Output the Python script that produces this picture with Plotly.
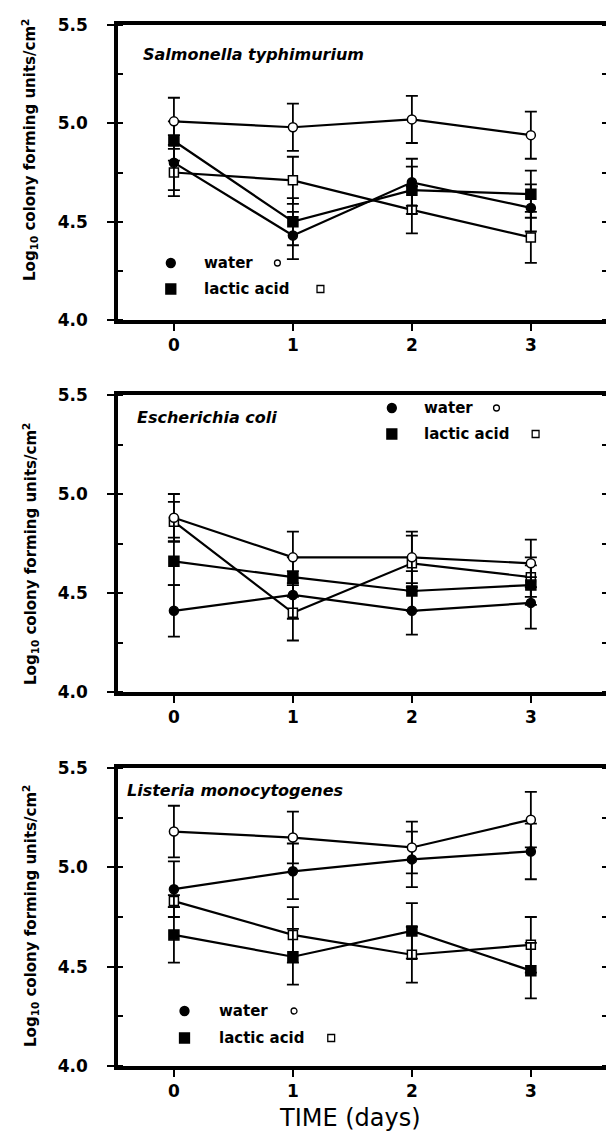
import plotly.graph_objects as go

days = [0, 1, 2, 3]
tick_vals_y = [4.0, 4.5, 5.0, 5.5]
tick_text_y = ["4.0", "4.5", "5.0", "5.5"]

panel_titles = ["Salmonella typhimurium", "Escherichia coli", "Listeria monocytogenes"]

# Salmonella typhimurium
sal_water_filled = [4.80, 4.43, 4.70, 4.57]
sal_water_filled_err = [0.14, 0.12, 0.12, 0.12]
sal_water_open = [5.01, 4.98, 5.02, 4.94]
sal_water_open_err = [0.12, 0.12, 0.12, 0.12]
sal_lactic_filled = [4.91, 4.50, 4.66, 4.64]
sal_lactic_filled_err = [0.10, 0.12, 0.12, 0.12]
sal_lactic_open = [4.75, 4.71, 4.56, 4.42]
sal_lactic_open_err = [0.12, 0.12, 0.12, 0.13]

# Escherichia coli
eco_water_filled = [4.41, 4.49, 4.41, 4.45]
eco_water_filled_err = [0.13, 0.12, 0.12, 0.13]
eco_water_open = [4.88, 4.68, 4.68, 4.65]
eco_water_open_err = [0.12, 0.13, 0.13, 0.12]
eco_lactic_filled = [4.66, 4.58, 4.51, 4.54]
eco_lactic_filled_err = [0.12, 0.10, 0.10, 0.10]
eco_lactic_open = [4.86, 4.40, 4.65, 4.58]
eco_lactic_open_err = [0.10, 0.14, 0.14, 0.10]

# Listeria monocytogenes
lis_water_filled = [4.89, 4.98, 5.04, 5.08]
lis_water_filled_err = [0.14, 0.14, 0.14, 0.14]
lis_water_open = [5.18, 5.15, 5.10, 5.24]
lis_water_open_err = [0.13, 0.13, 0.13, 0.14]
lis_lactic_filled = [4.66, 4.55, 4.68, 4.48]
lis_lactic_filled_err = [0.14, 0.14, 0.14, 0.14]
lis_lactic_open = [4.83, 4.66, 4.56, 4.61]
lis_lactic_open_err = [0.03, 0.14, 0.14, 0.14]

panels = [
    (sal_water_filled, sal_water_filled_err, sal_water_open, sal_water_open_err,
     sal_lactic_filled, sal_lactic_filled_err, sal_lactic_open, sal_lactic_open_err),
    (eco_water_filled, eco_water_filled_err, eco_water_open, eco_water_open_err,
     eco_lactic_filled, eco_lactic_filled_err, eco_lactic_open, eco_lactic_open_err),
    (lis_water_filled, lis_water_filled_err, lis_water_open, lis_water_open_err,
     lis_lactic_filled, lis_lactic_filled_err, lis_lactic_open, lis_lactic_open_err),
]

W, H = 614, 1140
ML, MR, MT, MB = 110, 4, 17, 82
PW = W - ML - MR
PH = H - MT - MB


def xp(px):
    return (px - ML) / PW


def yp(py):
    return (H - MB - py) / PH


panel_px = [(17, 312), (387, 684), (760, 1058)]

FONT = "DejaVu Sans"
fig = go.Figure()

for i, data in enumerate(panels):
    (wf, wfe, wo, woe, lf, lfe, lo, loe) = data
    sfx = "" if i == 0 else str(i + 1)
    xa, ya = "x" + sfx, "y" + sfx
    specs = [
        (lo, loe, "square", "white", 9),
        (lf, lfe, "square", "black", 10),
        (wf, wfe, "circle", "black", 9),
        (wo, woe, "circle", "white", 9),
    ]
    for vals, errs, sym, fill, size in specs:
        fig.add_trace(go.Scatter(
            x=days, y=vals, xaxis=xa, yaxis=ya, mode="lines+markers",
            line=dict(color="black", width=2.2),
            marker=dict(symbol=sym, color=fill, size=size,
                        line=dict(color="black", width=1.5)),
            error_y=dict(type="data", array=errs, visible=True,
                         color="black", thickness=1.8, width=6),
            showlegend=False, hoverinfo="skip",
        ))

layout = dict(
    width=W, height=H,
    margin=dict(l=ML, r=MR, t=MT, b=MB),
    paper_bgcolor="white", plot_bgcolor="white",
    showlegend=False,
    font=dict(family=FONT, color="black", size=15),
)

for i, (top, bot) in enumerate(panel_px):
    sfx = "" if i == 0 else str(i + 1)
    layout["xaxis" + sfx] = dict(
        domain=[0, 1], anchor="y" + sfx, range=[-0.47, 3.64],
        tickvals=days, ticktext=[str(d) for d in days],
        ticks="outside", ticklen=7, tickwidth=1.8, tickcolor="black",
        showline=True, linewidth=3.5, linecolor="black", mirror=True,
        showgrid=False, zeroline=False,
        tickfont=dict(family=FONT, size=17, color="black", weight="bold"),
        ticklabelstandoff=0,
    )
    layout["yaxis" + sfx] = dict(
        domain=[yp(bot), yp(top)], anchor="x" + sfx, range=[4.0, 5.5],
        tickvals=tick_vals_y, ticktext=tick_text_y,
        ticks="outside", ticklen=7, tickwidth=1.8, tickcolor="black",
        minor=dict(ticks="inside", dtick=0.25, tick0=4.0, ticklen=5,
                   tickwidth=1.5, tickcolor="black"),
        showline=True, linewidth=3.5, linecolor="black", mirror="ticks",
        showgrid=False, zeroline=False,
        tickfont=dict(family=FONT, size=17, color="black", weight="bold"),
        ticklabelstandoff=16,
    )

annotations = []
shapes = []

title_pos = [(134, 47), (127, 410), (117, 782)]
for t, (px_, py_) in zip(panel_titles, title_pos):
    annotations.append(dict(
        text=t, xref="paper", yref="paper",
        x=xp(px_), y=yp(py_), xanchor="left", yanchor="middle",
        showarrow=False,
        font=dict(family=FONT, size=16, color="black", weight="bold", style="italic")))

ytitle_centers = [142, 546, 908]
for cy in ytitle_centers:
    annotations.append(dict(
        text="Log<sub>10</sub> colony forming units/cm<sup>2</sup>",
        xref="paper", yref="paper", x=xp(20), y=yp(cy),
        xanchor="center", yanchor="middle", textangle=-90,
        showarrow=False, font=dict(family=FONT, size=15, color="black", weight="bold")))

legend_pos = [(164, 196, 255, 281, 273, 317),
              (390, 421, 400, 426, 497, 537),
              (178, 211, 1003, 1030, 290, 328)]


def key_shape(kind, cx, cy, r, filled, lw=1.5):
    return dict(type=kind, xref="paper", yref="paper",
                x0=xp(cx - r), x1=xp(cx + r), y0=yp(cy + r), y1=yp(cy - r),
                fillcolor="black" if filled else "white",
                line=dict(color="black", width=lw))


for sx, tx, y1, y2, oc, osq in legend_pos:
    shapes.append(key_shape("circle", sx, y1, 4.5, True))
    shapes.append(key_shape("rect", sx, y2, 5, True))
    shapes.append(key_shape("circle", oc, y1, 3, False, 1.3))
    shapes.append(key_shape("rect", osq, y2, 3.5, False, 1.3))
    annotations.append(dict(text="water", xref="paper", yref="paper",
                            x=xp(tx), y=yp(y1), xanchor="left", yanchor="middle",
                            showarrow=False,
                            font=dict(family=FONT, size=15, color="black", weight="bold")))
    annotations.append(dict(text="lactic acid", xref="paper", yref="paper",
                            x=xp(tx), y=yp(y2), xanchor="left", yanchor="middle",
                            showarrow=False,
                            font=dict(family=FONT, size=15, color="black", weight="bold")))

annotations.append(dict(text="TIME (days)", xref="paper", yref="paper",
                        x=xp(347), y=yp(1110), xanchor="center", yanchor="middle",
                        showarrow=False, font=dict(family=FONT, size=24, color="black")))

layout["annotations"] = annotations
layout["shapes"] = shapes
fig.update_layout(**layout)
fig.write_html("out.html")
